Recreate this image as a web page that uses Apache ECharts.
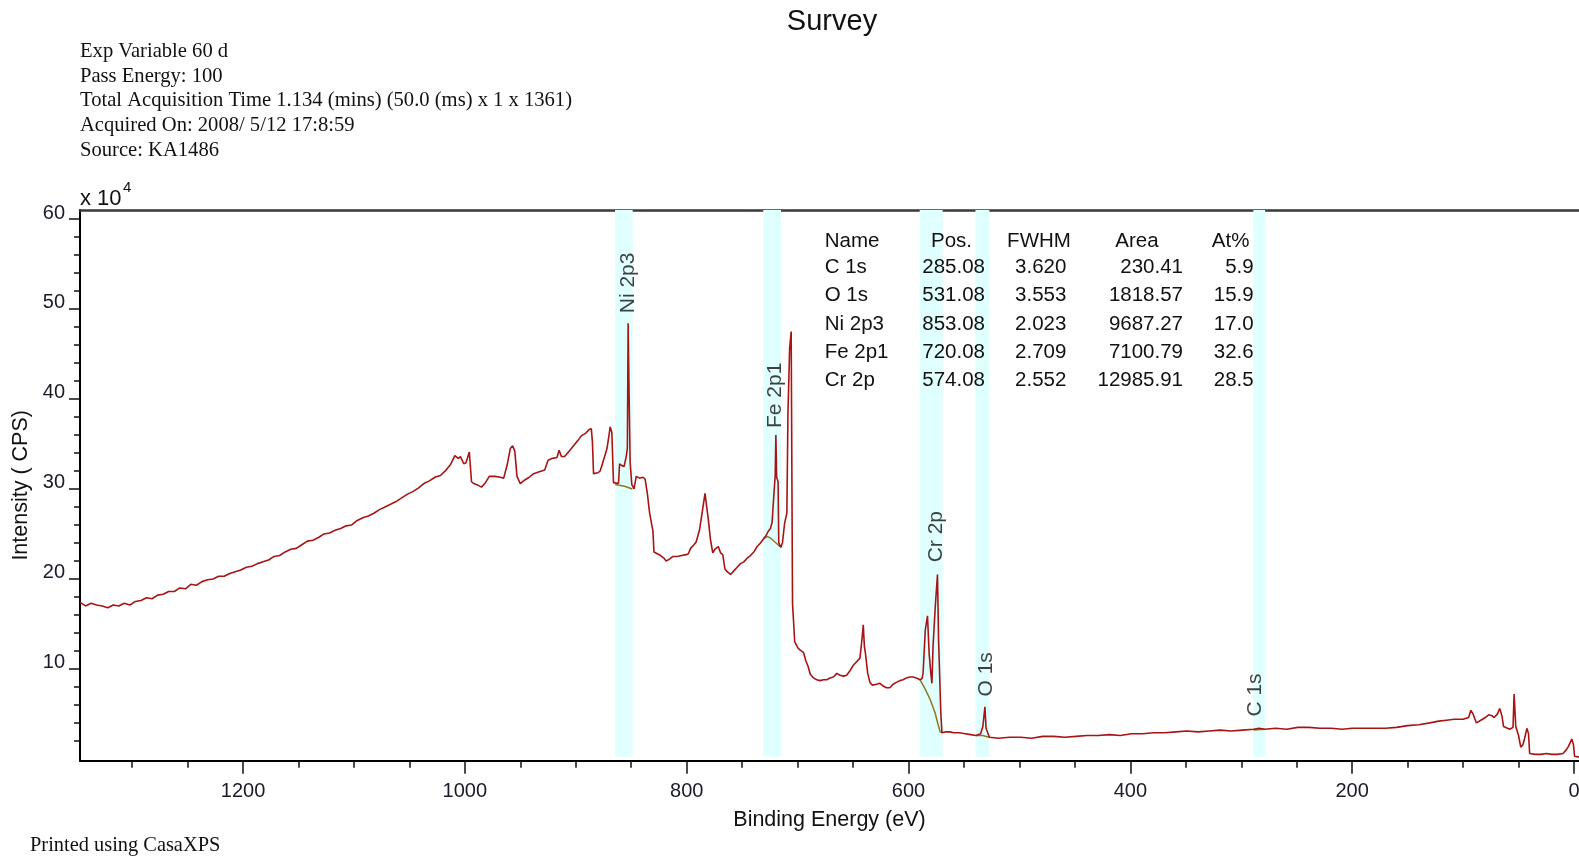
<!DOCTYPE html>
<html><head><meta charset="utf-8">
<script src="https://cdn.jsdelivr.net/npm/echarts@6/dist/echarts.min.js"></script>
<style>html,body{margin:0;padding:0;background:#fff}#c{width:1579px;height:857px}</style>
</head><body><div id="c"></div>
<script>
// Survey spectrum: [binding energy (eV), intensity (x 10^4 CPS)]
const spectrum = [
[1347,17.4],[1342,17.0],[1337,17.3],[1332,17.1],[1327,17.0],[1322,16.8],[1317,17.1],[1312,17.0],[1307,17.3],[1302,17.1],
[1297,17.5],[1292,17.6],[1287,17.9],[1282,17.8],[1277,18.2],[1272,18.3],[1267,18.6],[1262,18.6],[1257,19.0],[1252,18.9],
[1247,19.4],[1242,19.3],[1237,19.7],[1232,19.9],[1227,20.0],[1222,20.3],[1217,20.3],[1212,20.6],[1207,20.8],[1202,21.0],
[1197,21.3],[1192,21.4],[1187,21.7],[1182,21.9],[1177,22.1],[1172,22.5],[1167,22.6],[1162,23.0],[1157,23.3],[1152,23.4],
[1147,23.8],[1142,24.2],[1137,24.3],[1132,24.6],[1127,25.0],[1122,25.1],[1117,25.4],[1112,25.6],[1107,25.9],[1102,26.0],
[1097,26.5],[1092,26.8],[1087,27.0],[1082,27.3],[1077,27.7],[1072,28.0],[1067,28.3],[1062,28.6],[1057,29.0],[1052,29.4],
[1047,29.7],[1042,30.1],[1037,30.6],[1032,30.9],[1027,31.3],[1022,31.5],[1017,32.1],[1013,32.7],
[1009,33.7],[1006,33.4],[1004,33.6],[1001,32.8],[999,32.9],[996,34.1],[994,30.8],[992,30.6],[988,30.4],[985,30.2],
[982,30.6],[978,31.4],[973,31.4],[968,31.3],[965,31.2],[962,32.6],[959,34.5],[957,34.8],[955,34.2],[953,31.4],
[950,30.6],[946,31.0],[942,31.3],[938,31.7],[933,31.9],[928,32.1],[925,33.2],[921,33.4],[917,33.5],[915,34.3],
[913,33.6],[910,33.6],[906,34.2],[902,34.8],[898,35.4],[895,35.9],[891,36.2],[888,36.6],[886,36.7],[885,35.2],
[884,31.7],[880,31.8],[878,32.0],[876,32.8],[874,33.6],[872,34.4],[870,36.0],[869,36.9],[867.5,36.3],[866,30.7],
[864.5,30.5],[861.5,30.6],[860.5,32.8],[858.5,32.6],[856.5,32.5],[854.5,33.6],[853.5,34.5],[852.8,48.4],[852,41.0],[851,33.0],
[849.5,30.5],[847.5,30.0],[845.5,31.4],[842.5,31.2],[839.5,31.3],[837.5,31.1],[835.5,29.5],[833.5,27.4],[831.5,26.0],[830.5,25.4],
[829.5,23.0],[826.5,22.8],[823.5,22.6],[820.5,22.3],[818.5,22.0],[815.5,22.2],[812.5,22.5],[808.5,22.5],[804.5,22.6],[800.5,22.7],
[798.5,22.8],[796.5,23.4],[793.5,23.8],[791.5,24.1],[788.5,25.4],[786.5,27.0],[783.5,29.5],[782.5,29.4],[780.5,26.6],[778.5,24.3],
[776.5,22.9],[774.5,23.3],[771.5,23.6],[769.5,22.9],[767.5,22.7],[765.5,21.1],[763.5,20.8],[760.5,20.5],[757.5,20.9],[754.5,21.3],
[751.5,21.7],[748.5,21.9],[745.5,22.3],[742.5,22.6],[739.5,23.0],[736.5,23.6],[733.5,24.0],[730.5,24.5],[728.5,24.8],[726.5,25.3],
[724.5,25.6],[723,26.3],[721.6,29.0],[720.2,31.5],[719.6,36.0],[718.9,31.3],[717.6,30.8],[717,24.0],[715.2,23.5],[713.7,24.0],
[711.7,26.2],[709.7,27.3],[708.7,38.4],[707.2,45.6],[705.8,47.5],[704.6,17.3],[702.6,13.0],[699.6,12.3],[697.6,12.1],[694.6,11.8],
[692.6,10.9],[690.6,10.3],[688.6,9.4],[685.7,9.0],[682.7,8.8],[679.7,8.7],[676.7,8.8],[673.7,8.8],[670.7,9.0],[667.7,9.1],
[664.7,9.5],[661.7,9.3],[658.7,9.2],[655.8,9.3],[652.8,9.8],[649.8,10.4],[646.8,10.8],[643.8,11.2],[641.8,13.5],[640.8,14.9],
[639.8,12.5],[638.8,11.7],[636.8,9.5],[634.8,8.5],[632.8,8.2],[628.8,8.3],[625.8,8.4],[622.8,8.1],[619.9,7.9],[616.9,7.9],
[613.9,8.3],[610.9,8.5],[607.9,8.7],[604.9,8.8],[601.9,9.0],[598.9,9.1],[595.9,9.1],[592.9,9.0],[589.9,8.8],[587.9,8.9],
[586.9,9.5],[584.9,14.3],[582.9,15.9],[581.4,11.7],[579.9,9.5],[578.9,8.4],[577.9,12.5],[575.9,16.9],[573.9,20.5],[572.9,13.2],
[570.9,5.1],[569.9,2.9],[567,3.0],[563,3.0],[559,2.9],[554,2.9],[549,2.8],[544,2.7],[539,2.6],[535,2.8],
[533,3.6],[531.1,5.8],[530.1,3.4],[527.1,2.4],[519,2.3],[509,2.4],[499,2.4],[489,2.3],[479,2.5],[469,2.5],
[459,2.4],[449,2.5],[439,2.6],[429,2.6],[419,2.7],[409,2.6],[399,2.8],[389,2.8],[379,2.9],[369,2.9],
[359,3.0],[349,3.1],[339,3.0],[329,3.1],[319,3.2],[309,3.1],[299,3.2],[289,3.3],[284,3.4],[279,3.3],
[269,3.4],[259,3.3],[249,3.5],[239,3.5],[229,3.4],[219,3.4],[209,3.3],[200,3.4],[190,3.4],[180,3.4],
[170,3.4],[160,3.5],[150,3.7],[140,3.8],[130,4.0],[122,4.2],[115,4.3],[108,4.4],[100,4.4],[95,4.6],
[93,5.4],[91,5.0],[88,4.0],[84,4.3],[80,4.6],[77,4.9],[74,4.8],[72,4.6],[69,5.0],[67,5.6],
[65,4.8],[63.5,3.6],[60,3.4],[58,3.3],[55,3.5],[54,7.2],[52.5,3.6],[50,2.6],[48,1.3],[46,1.6],
[44.5,2.3],[42.5,3.4],[41,2.8],[40,0.6],[35,0.5],[30,0.5],[25,0.6],[20,0.5],[15,0.5],[10,0.6],
[7,1.0],[5,1.4],[2,2.2],[0.5,1.6],[-0.5,0.3],[-4.5,0.2]
];
// Background lines under fitted regions
const bgNi = [[864.5,30.5],[856,30.3],[849,30.0]];
const bgFe = [[731,24.5],[727,24.7],[724,24.5],[720.5,24.1],[716,23.6]];
const bgCr = [[589.7,8.8],[585.5,7.9],[580.5,6.6],[576,5.1],[573.3,3.8],[571.5,3.0],[569.5,2.9]];
const bgO  = [[539,2.6],[533,2.6],[530,2.5],[527,2.4]];
const bgC  = [[289,3.2],[279,3.3]];
// Quantification regions
const regionNames = ['Ni 2p3','Fe 2p1','Cr 2p','O 1s','C 1s'];
const regionStart = [864.6,731.0,589.9,539.7,289.1];
const regionEnd   = [848.7,715.0,569.2,527.1,278.5];
// Peak label anchors [BE, intensity]
const peakLabelBE = [852.9,720.3,574.6,530.1,287.6];
const peakLabelY  = [52.9,40.4,24.7,9.4,7.1];
// Table
const tableHeader = ['Name','Pos.','FWHM','Area','At%'];
const tableNames = ['C 1s','O 1s','Ni 2p3','Fe 2p1','Cr 2p'];
const tablePos   = ['285.08','531.08','853.08','720.08','574.08'];
const tableFWHM  = ['3.620','3.553','2.023','2.709','2.552'];
const tableArea  = ['230.41','1818.57','9687.27','7100.79','12985.91'];
const tableAt    = ['5.9','15.9','17.0','32.6','28.5'];
// Header info
const headerLines = ['Exp Variable 60 d','Pass Energy: 100','Total Acquisition Time 1.134 (mins) (50.0 (ms) x 1 x 1361)','Acquired On: 2008/ 5/12 17:8:59','Source: KA1486'];
// Axis ticks
const xMajor = [0,200,400,600,800,1000,1200];
const xMinor = [50,100,150,250,300,350,450,500,550,650,700,750,850,900,950,1050,1100,1150,1250,1300];
const yMajor = [10,20,30,40,50,60];
const yMinor = [2,4,6,8,12,14,16,18,22,24,26,28,32,34,36,38,42,44,46,48,52,54,56,58];

const SANS = '"Liberation Sans", Arial, sans-serif';
const SERIF = '"Liberation Serif", "Times New Roman", serif';
const chart = echarts.init(document.getElementById('c'));

const graphics = [];
const T = (text, x, y, font, align) => ({type:'text', z:100, zlevel:0, style:{text, x, y, font, fill:'#111', textAlign:align||'left', textVerticalAlign:'middle'}});
graphics.push(T('Survey', 832, 22, '29px '+SANS, 'center'));
headerLines.forEach((t,i)=>graphics.push(T(t, 80, 51.3+i*24.8, '20.6px '+SERIF)));
graphics.push(T('Printed using CasaXPS', 30, 846, '20.4px '+SERIF));
graphics.push(T('x 10', 80, 199, '22px '+SANS));
graphics.push(T('4', 123, 188, '15px '+SANS));
// table
const colX = [824.7, 985, 1066.4, 1183, 1253.7];
const colAlign = ['left','right','right','right','right'];
const headX = [824.7, 951.5, 1039, 1137, 1230.6];
const headAlign = ['left','center','center','center','center'];
const rowY0 = 241.5, rowStep = 28.2;
tableHeader.forEach((h,j)=>graphics.push(T(h, headX[j], rowY0, '20.5px '+SANS, headAlign[j])));
const cols = [tableNames, tablePos, tableFWHM, tableArea, tableAt];
cols.forEach((col,j)=>col.forEach((v,i)=>graphics.push(T(v, colX[j], rowY0+26+i*rowStep, '20.5px '+SANS, colAlign[j]))));

const xmin = -4.5, xmax = 1347, ymin = -0.2, ymax = 61;
const tickStyle = {color:'#111', width:1.5};
const gridBox = {left:80, right:0, top:210, bottom:96.3, containLabel:false, outerBoundsMode:'none'};

const option = {
  animation:false,
  backgroundColor:'#fff',
  grid:[Object.assign({}, gridBox), Object.assign({}, gridBox)],
  xAxis:[
    {gridIndex:0, type:'value', inverse:true, min:xmin, max:xmax, position:'bottom',
     name:'Binding Energy (eV)', nameLocation:'middle', nameGap:48,
     nameTextStyle:{fontSize:21.5, fontFamily:SANS, color:'#111'},
     axisLine:{show:true, onZero:false, lineStyle:{color:'#000', width:2}},
     axisTick:{show:true, customValues:xMajor, length:13, lineStyle:tickStyle},
     axisLabel:{show:true, customValues:xMajor, formatter:v=>String(v), fontSize:20, fontFamily:SANS, color:'#1a1a2a', margin:21},
     splitLine:{show:false}},
    {gridIndex:0, type:'value', inverse:true, min:xmin, max:xmax, position:'top',
     axisLine:{show:true, onZero:false, lineStyle:{color:'#3a3a3a', width:2.5}},
     axisTick:{show:false}, axisLabel:{show:false}, splitLine:{show:false}},
    {gridIndex:1, type:'value', inverse:true, min:xmin, max:xmax, position:'bottom',
     axisLine:{show:false, onZero:false}, axisLabel:{show:false}, splitLine:{show:false},
     axisTick:{show:true, customValues:xMinor, length:7, lineStyle:tickStyle}}
  ],
  yAxis:[
    {gridIndex:0, type:'value', min:ymin, max:ymax, position:'left',
     name:'Intensity ( CPS)', nameLocation:'middle', nameGap:46,
     nameTextStyle:{fontSize:21.5, fontFamily:SANS, color:'#111'},
     axisLine:{show:true, onZero:false, lineStyle:{color:'#000', width:2}},
     axisTick:{show:true, customValues:yMajor, length:11, lineStyle:tickStyle},
     axisLabel:{show:true, customValues:yMajor, fontSize:20, fontFamily:SANS, color:'#1a1a2a', margin:15, verticalAlign:'bottom', lineHeight:12},
     splitLine:{show:false}},
    {gridIndex:1, type:'value', min:ymin, max:ymax, position:'left',
     axisLine:{show:false, onZero:false}, axisLabel:{show:false}, splitLine:{show:false},
     axisTick:{show:true, customValues:yMinor, length:6, lineStyle:tickStyle}}
  ],
  series:[
    {type:'line', name:'regions', data:[], z:1, silent:true,
     markArea:{silent:true, itemStyle:{color:'#e0ffff'},
       data: regionNames.map((n,i)=>[{xAxis:regionStart[i], yAxis:0.25},{xAxis:regionEnd[i], yAxis:ymax}])}},
    ...[bgNi,bgFe,bgCr,bgO,bgC].map(bg=>({type:'line', data:bg, z:2, symbol:'none', silent:true,
       lineStyle:{color:'#8a7a1c', width:1.5}})),
    {type:'line', name:'Survey', data:spectrum, z:3, symbol:'none', silent:true,
     lineStyle:{color:'#a81414', width:1.6}},
    {type:'scatter', name:'labels', z:4, symbolSize:0, silent:true,
     data: regionNames.map((n,i)=>({name:n, value:[peakLabelBE[i], peakLabelY[i]]})),
     label:{show:true, position:'inside', rotate:90, formatter:'{b}', fontSize:21, fontFamily:SANS, color:'#111'}}
  ],
  graphic: graphics
};
chart.setOption(option);
</script></body></html>
